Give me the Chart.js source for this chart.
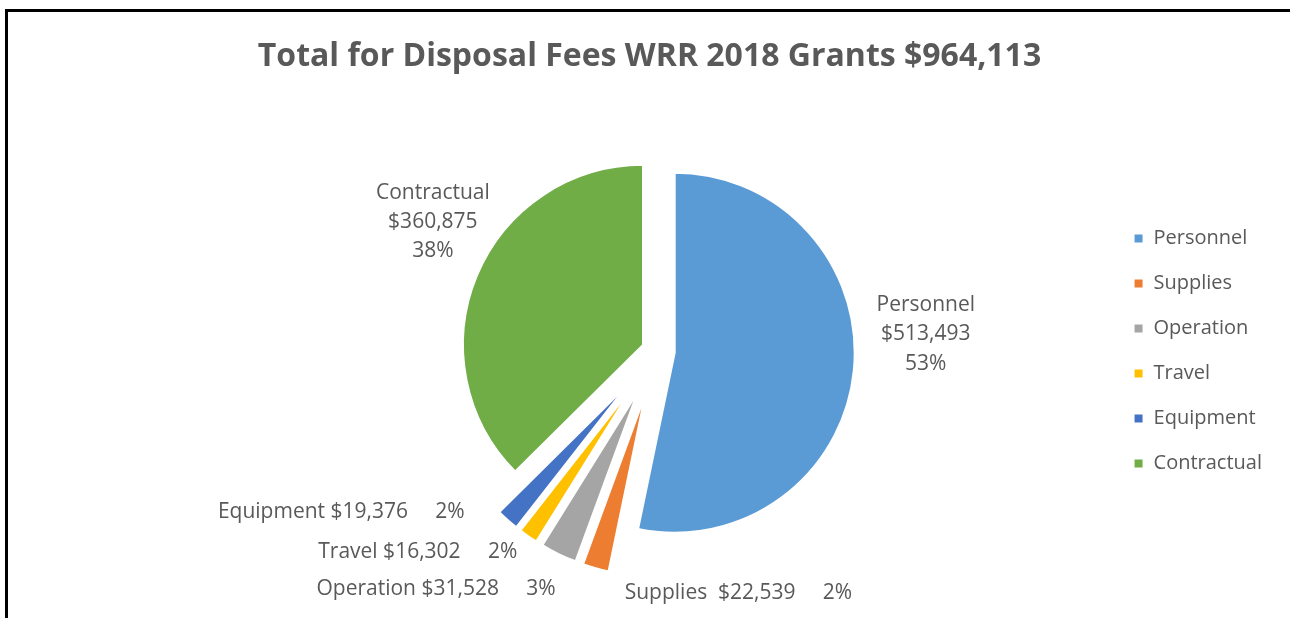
<!DOCTYPE html>
<html>
<head>
<meta charset="utf-8">
<script src="https://cdn.jsdelivr.net/npm/chart.js@4.4.0/dist/chart.umd.min.js"></script>
<style>
  html, body { margin: 0; padding: 0; background: #fff; }
  #wrap { position: relative; width: 1291px; height: 618px; overflow: hidden; }
  #title {
    position: absolute; left: 0; top: 38px; width: 1299px;
    text-align: center; white-space: pre;
    font: bold 32px/32px 'Open Sans', sans-serif; color: #595959;
  }
  .frame-top { position: absolute; left: 5px; top: 9px; width: 1285px; height: 3px; background: #000; }
  .frame-left { position: absolute; left: 5px; top: 9px; width: 3px; height: 609px; background: #000; }
  canvas { position: absolute; left: 0; top: 0; }
</style>
</head>
<body>
<div id="wrap">
  <canvas id="pie" width="1291" height="618"></canvas>
  <div id="title">Total for Disposal Fees WRR 2018 Grants $964,113</div>
  <div class="frame-top"></div>
  <div class="frame-left"></div>
</div>
<script>
// データ
const categories = ['Personnel', 'Supplies', 'Operation', 'Travel', 'Equipment', 'Contractual'];
const amounts = [513493, 22539, 31528, 16302, 19376, 360875];
const percentLabels = ['53%', '2%', '3%', '2%', '2%', '38%'];

// 見た目
const sliceColors = ['#5B9BD5', '#ED7D31', '#A5A5A5', '#FFC000', '#4472C4', '#70AD47'];
const explode = [17, 46, 46, 46, 46, 16];
const labelPlace = [
    { stacked: true, dx: 72, dy: -60 },
    { align: 'left', gap: '  ', dx: 29, dy: 31 },
    { align: 'right', gap: ' ', dx: -3, dy: 41 },
    { align: 'right', gap: ' ', dx: -11, dy: 22 },
    { align: 'right', gap: ' ', dx: -43, dy: -2 },
    { stacked: true, dx: -44, dy: -77 }
];

Chart.defaults.font.family = "'Open Sans', sans-serif";
Chart.defaults.color = '#595959';

// 切り離したスライスを描く
const explodedSlices = {
    id: 'explodedSlices',
    beforeDatasetDraw(chart, args) {
        const ctx = chart.ctx;
        args.meta.data.forEach((arc, i) => {
            const mid = (arc.startAngle + arc.endAngle) / 2;
            ctx.save();
            ctx.translate(Math.cos(mid) * explode[i], Math.sin(mid) * explode[i]);
            arc.draw(ctx);
            ctx.restore();
        });
        return false;
    }
};

// データラベル
const sliceLabels = {
    id: 'sliceLabels',
    afterDatasetsDraw(chart) {
        const ctx = chart.ctx;
        const arcs = chart.getDatasetMeta(0).data;
        ctx.save();
        ctx.fillStyle = '#595959';
        ctx.font = "21px 'Open Sans'";
        ctx.textBaseline = 'alphabetic';
        arcs.forEach((arc, i) => {
            const p = labelPlace[i];
            const mid = (arc.startAngle + arc.endAngle) / 2;
            const r = arc.outerRadius + explode[i];
            const x = arc.x + Math.cos(mid) * r + p.dx;
            const y = arc.y + Math.sin(mid) * r + p.dy;
            const money = '$' + amounts[i].toLocaleString('en-US');
            if (p.stacked) {
                ctx.textAlign = 'center';
                [categories[i], money, percentLabels[i]].forEach((t, k) => ctx.fillText(t, x, y + k * 29.3));
            } else {
                ctx.textAlign = p.align;
                ctx.fillText(categories[i] + p.gap + money + '     ' + percentLabels[i], x, y);
            }
        });
        ctx.restore();
    }
};

new Chart(document.getElementById('pie'), {
    type: 'pie',
    data: {
        labels: categories,
        datasets: [{
            data: amounts,
            backgroundColor: sliceColors,
            borderColor: '#ffffff',
            borderWidth: 2,
            radius: 180
        }]
    },
    options: {
        responsive: false,
        animation: false,
        events: [],
        radius: 180,
        layout: { padding: { top: 84, bottom: 0, left: 207, right: 19 } },
        plugins: {
            tooltip: { enabled: false },
            legend: {
                position: 'right',
                labels: {
                    boxWidth: 10,
                    boxHeight: 10,
                    padding: 25,
                    color: '#595959',
                    font: { size: 20 }
                }
            }
        }
    },
    plugins: [explodedSlices, sliceLabels]
});
</script>
</body>
</html>
